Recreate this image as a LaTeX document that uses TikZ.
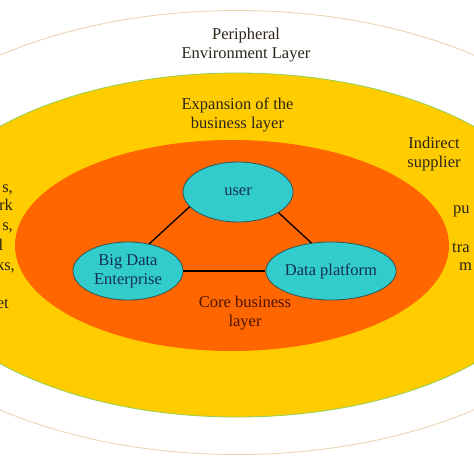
\documentclass[tikz,border=0pt]{standalone}
\usepackage{fontspec}
\setmainfont{Liberation Serif}
\usepackage{xcolor}
\usetikzlibrary{shapes.geometric}

\definecolor{ringtan}{HTML}{EAD2AC}
\definecolor{bizyellow}{HTML}{FFCC00}
\definecolor{bizrim}{HTML}{92D050}
\definecolor{coreorange}{HTML}{FF6600}
\definecolor{actorcyan}{HTML}{33CCCC}
\definecolor{actorrim}{HTML}{2E5656}
\definecolor{actortext}{HTML}{14304F}
\definecolor{layertext}{HTML}{2B2418}
\definecolor{coretext}{HTML}{4A1200}

\begin{document}
\begin{tikzpicture}[x=1pt,y=-1pt,
		txt/.style={font=\fontsize{16.5}{19}\selectfont, align=center, inner sep=0pt, text=layertext},
		actor/.style={ellipse, draw=actorrim, line width=0.8pt, fill=actorcyan, minimum width=110pt, minimum height=58pt, inner sep=0pt, txt, text=actortext},
		link/.style={line width=1.3pt, black}]
		\def\W{474};
		\def\H{474};

		\useasboundingbox (0,0) rectangle (\W,\H);
		\clip (0,0) rectangle (\W,\H);
		\fill[white] (0,0) rectangle (\W,\H);

		% three layers
		\draw[ringtan, line width=0.8pt] (237,232.5) ellipse [x radius=394pt, y radius=222pt];
		\filldraw[fill=bizyellow, draw=bizrim, line width=0.8pt] (237,245) ellipse [x radius=327pt, y radius=172pt];
		\fill[coreorange] (232,245.5) ellipse [x radius=217pt, y radius=105.5pt];

		\node[txt] (peripheral) at (246,45) {Peripheral\\Environment Layer};
		\node[txt] (expansion) at (237.5,115) {Expansion of the\\business layer};
		\node[txt] (indirect) at (434,154) {Indirect\\supplier};
		\node[txt, text=coretext] (core) at (245,313) {Core business\\layer};

		% cut off at the edges
		\foreach \t/\x/\y [count=\i] in {{s,}/13/192, rk/13/210, {s,}/13/230, l/3.5/250, {ks,}/15/270, et/9/308}
			\node[txt, anchor=base east] (left\i) at (\x,\y) {\t};
		\foreach \t/\x/\y [count=\i] in {pu/453/213, tra/452/252, m/459/270}
			\node[txt, anchor=base west] (right\i) at (\x,\y) {\t};

		% actors
		\node[actor, minimum height=60pt] (user) at (238,192) {user};
		\node[actor] (bde) at (128,271) {Big Data\\Enterprise};
		\node[actor] (platform) at (331,271) {Data platform};

		\draw[link] (user.197) -- (bde.52);
		\draw[link] (user.333) -- (platform.125);
		\draw[link] (bde.east) -- (platform.west);
	\end{tikzpicture}
\end{document}
